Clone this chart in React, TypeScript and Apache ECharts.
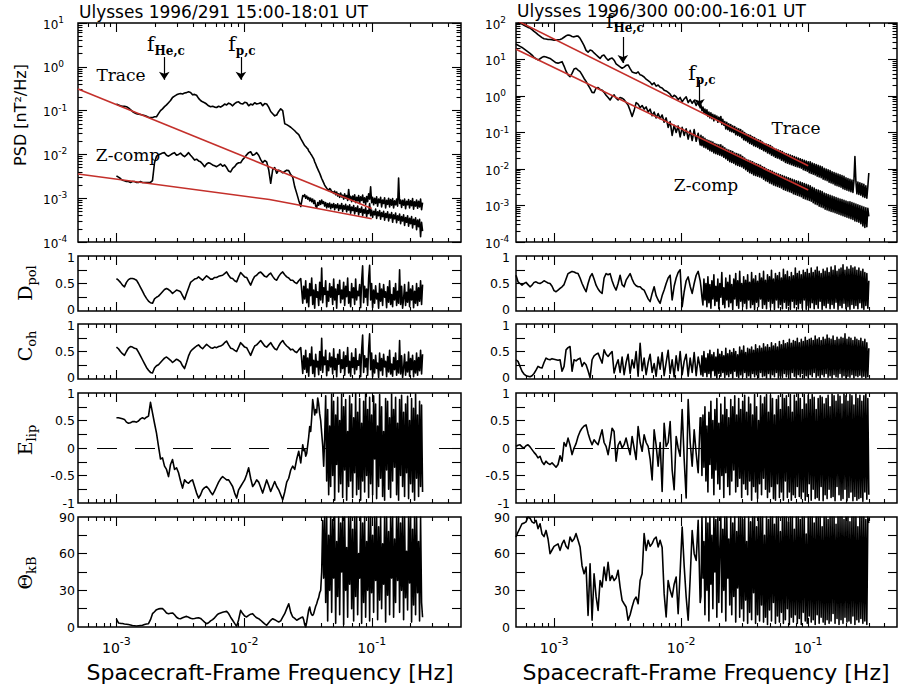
import React, { useEffect, useRef } from "react";
import * as echarts from "echarts";

const SANS = "'DejaVu Sans', Verdana, sans-serif";
const SERIF = "'DejaVu Serif', serif";
const INK = "#000";
const FIT_RED = "#c4302b";

// Frequency axis (Hz) and its labelled decades (exponents)
const F_LOW = 5e-4;
const F_HIGH = 0.5;
const F_LABEL_EXPONENTS = [-3, -2, -1];

// Sampling of each spectrum: [f start (Hz), f end (Hz), points], evenly spaced in log f.
// The high-frequency estimates are far denser than the low-frequency ones.
const SAMPLING_291 = [[1e-3, 0.0288, 94], [0.0293, 0.25, 120]];
const SAMPLING_300 = [[5e-4, 0.0141, 93], [0.0143, 0.3, 170]];

// PSD axis decades (exponents of 10, nT^2/Hz)
const PSD_EXP_291 = [-4, -3, -2, -1, 0, 1];
const PSD_EXP_300 = [-4, -3, -2, -1, 0, 1, 2];

// Linear panel ticks and labels
const UNIT_TICKS = [0.25, 0.5, 0.75];
const UNIT_LABELS = [0, 0.5, 1];
const ELIP_TICKS = [-0.75, -0.5, -0.25, 0, 0.25, 0.5, 0.75];
const ELIP_LABELS = [-1, -0.5, 0, 0.5, 1];
const THETA_TICKS = [15, 30, 45, 60, 75];
const THETA_LABELS = [0, 30, 60, 90];

// ---- 1996/291 15:00-18:01 UT ----
// log10 PSD [nT^2/Hz], trace of the spectral matrix
const traceLog291 = [
  -0.85, -0.87, -0.89, -0.9, -0.9, -0.91, -0.94, -0.98, -1.02, -1.05,
  -1.07, -1.08, -1.09, -1.1, -1.11, -1.13, -1.15, -1.16, -1.16, -1.14,
  -1.14, -1.07, -1.0, -0.96, -0.91, -0.87, -0.82, -0.77, -0.7, -0.67,
  -0.64, -0.62, -0.61, -0.62, -0.6, -0.59, -0.57, -0.585, -0.64, -0.63,
  -0.65, -0.72, -0.77, -0.8, -0.82, -0.85, -0.89, -0.91, -0.9, -0.92,
  -0.93, -0.9, -0.92, -0.89, -0.85, -0.87, -0.83, -0.85, -0.89, -0.84,
  -0.81, -0.8, -0.84, -0.85, -0.81, -0.82, -0.89, -0.85, -0.87, -0.82,
  -0.85, -0.84, -0.82, -0.89, -0.84, -0.85, -0.92, -1.02, -1.07, -1.12,
  -1.1, -1.02, -0.96, -1.0, -1.3, -1.32, -1.35, -1.38, -1.42, -1.46,
  -1.51, -1.55, -1.64, -1.72,
  -1.76, -1.8, -1.82, -1.85, -1.87, -1.92, -1.95, -1.99, -2.02, -2.06,
  -2.1, -2.17, -2.22, -2.28, -2.33, -2.38, -2.43, -2.49, -2.55, -2.6,
  -2.65, -2.7, -2.74, -2.77, -2.8, -2.82, -2.78, -2.8, -2.86, -2.85,
  -2.89, -2.84, -2.92, -2.86, -2.95, -2.9, -2.98, -2.88, -2.97, -2.93,
  -3.02, -2.9, -3.0, -2.94, -3.05, -2.8, -3.02, -2.96, -3.08, -2.95,
  -3.04, -2.92, -3.1, -2.98, -3.06, -2.94, -3.12, -2.97, -3.05, -2.93,
  -3.1, -2.99, -3.14, -2.96, -3.08, -2.9, -3.02, -2.74, -3.1, -2.98,
  -3.15, -3.0, -3.12, -2.97, -3.18, -3.02, -3.1, -2.98, -3.2, -3.04,
  -3.12, -2.99, -3.22, -3.05, -3.14, -3.0, -3.2, -3.03, -3.16, -3.01,
  -3.22, -3.06, -3.15, -3.02, -3.18, -2.54, -3.12, -3.04, -3.21, -3.05,
  -3.16, -3.02, -3.24, -3.07, -3.15, -3.03, -3.22, -3.06, -3.17, -3.01,
  -3.25, -3.08, -3.18, -3.04, -3.23, -3.07, -3.2, -3.02, -3.26, -3.1,
];
// log10 PSD [nT^2/Hz], field-aligned (Z) component
const zLog291 = [
  -2.49, -2.52, -2.55, -2.59, -2.6, -2.62, -2.62, -2.64, -2.62, -2.62,
  -2.64, -2.64, -2.62, -2.64, -2.64, -2.64, -2.64, -2.64, -2.6, -2.19,
  -2.04, -2.01, -1.99, -1.97, -1.96, -2.02, -2.04, -2.01, -1.98, -1.96,
  -2.02, -2.0, -1.97, -2.02, -2.05, -2.01, -1.96, -2.02, -2.07, -2.13,
  -2.11, -2.15, -2.17, -2.22, -2.28, -2.22, -2.19, -2.21, -2.24, -2.26,
  -2.28, -2.25, -2.22, -2.27, -2.24, -2.3, -2.38, -2.4, -2.32, -2.28,
  -2.22, -2.19, -2.19, -2.12, -2.07, -2.01, -1.96, -1.94, -2.02, -2.0,
  -1.96, -2.02, -2.12, -2.19, -2.14, -2.17, -2.35, -2.66, -2.35, -2.3,
  -2.43, -2.36, -2.38, -2.42, -2.39, -2.36, -2.37, -2.46, -2.52, -2.74,
  -2.89, -3.05, -3.19, -2.94,
  -2.96, -2.92, -3.0, -2.95, -3.02, -2.98, -3.06, -3.0, -3.08, -3.02,
  -3.12, -3.05, -3.18, -3.22, -3.1, -3.16, -3.06, -3.14, -3.04, -3.12,
  -3.08, -3.18, -3.1, -3.22, -3.12, -3.2, -3.11, -3.24, -3.14, -3.21,
  -3.12, -3.26, -3.15, -3.22, -3.13, -3.28, -3.16, -3.24, -3.12, -3.3,
  -3.17, -3.25, -3.14, -3.31, -3.18, -3.27, -3.15, -3.34, -3.2, -3.28,
  -3.17, -3.36, -3.22, -3.3, -3.18, -3.38, -3.24, -3.32, -3.2, -3.4,
  -3.26, -3.34, -3.22, -3.42, -3.28, -3.35, -3.12, -3.4, -3.27, -3.44,
  -3.3, -3.38, -3.25, -3.46, -3.31, -3.4, -3.28, -3.48, -3.33, -3.42,
  -3.3, -3.5, -3.35, -3.44, -3.31, -3.52, -3.37, -3.45, -3.33, -3.55,
  -3.38, -3.47, -3.34, -3.56, -3.4, -3.5, -3.36, -3.58, -3.42, -3.52,
  -3.38, -3.62, -3.44, -3.55, -3.4, -3.64, -3.46, -3.58, -3.42, -3.68,
  -3.48, -3.6, -3.45, -3.72, -3.5, -3.65, -3.48, -3.88, -3.55, -3.75,
];
const dpol291 = [
  0.59, 0.56, 0.52, 0.47, 0.44, 0.52, 0.57, 0.59, 0.59, 0.58,
  0.56, 0.5, 0.43, 0.36, 0.29, 0.23, 0.18, 0.15, 0.14, 0.22,
  0.25, 0.27, 0.31, 0.35, 0.39, 0.41, 0.39, 0.36, 0.32, 0.35,
  0.38, 0.37, 0.35, 0.28, 0.21, 0.32, 0.42, 0.52, 0.55, 0.58,
  0.59, 0.62, 0.59, 0.56, 0.6, 0.64, 0.61, 0.58, 0.58, 0.61,
  0.61, 0.63, 0.64, 0.65, 0.68, 0.71, 0.65, 0.6, 0.59, 0.55,
  0.53, 0.62, 0.7, 0.66, 0.62, 0.61, 0.54, 0.47, 0.56, 0.63,
  0.65, 0.69, 0.71, 0.67, 0.63, 0.62, 0.66, 0.69, 0.63, 0.58,
  0.56, 0.63, 0.68, 0.71, 0.66, 0.62, 0.6, 0.56, 0.56, 0.52,
  0.5, 0.55, 0.59, 0.14,
  0.45, 0.22, 0.55, 0.15, 0.4, 0.08, 0.5, 0.28, 0.6, 0.12,
  0.38, 0.05, 0.48, 0.25, 0.35, 0.1, 0.52, 0.2, 0.78, 0.15,
  0.42, 0.3, 0.55, 0.08, 0.36, 0.18, 0.5, 0.25, 0.44, 0.12,
  0.58, 0.2, 0.4, 0.05, 0.48, 0.3, 0.56, 0.15, 0.38, 0.22,
  0.52, 0.1, 0.45, 0.26, 0.6, 0.14, 0.35, 0.08, 0.5, 0.24,
  0.42, 0.12, 0.58, 0.2, 0.36, 0.28, 0.48, 0.06, 0.55, 0.82,
  0.15, 0.45, 0.25, 0.4, 0.1, 0.6, 0.83, 0.2, 0.5, 0.06,
  0.38, 0.14, 0.46, 0.22, 0.32, 0.05, 0.5, 0.18, 0.4, 0.1,
  0.48, 0.25, 0.35, 0.06, 0.44, 0.16, 0.55, 0.12, 0.3, 0.08,
  0.42, 0.2, 0.5, 0.1, 0.36, 0.14, 0.75, 0.12, 0.45, 0.05,
  0.22, 0.48, 0.1, 0.34, 0.16, 0.52, 0.08, 0.4, 0.2, 0.46,
  0.06, 0.36, 0.14, 0.5, 0.1, 0.42, 0.18, 0.55, 0.12, 0.48,
];
const coh291 = [
  0.58, 0.55, 0.5, 0.46, 0.43, 0.5, 0.56, 0.59, 0.58, 0.56,
  0.55, 0.49, 0.42, 0.35, 0.28, 0.21, 0.16, 0.12, 0.11, 0.2,
  0.24, 0.26, 0.3, 0.34, 0.38, 0.4, 0.37, 0.34, 0.3, 0.33,
  0.36, 0.34, 0.31, 0.24, 0.19, 0.3, 0.42, 0.5, 0.54, 0.57,
  0.6, 0.62, 0.58, 0.55, 0.59, 0.63, 0.6, 0.57, 0.56, 0.58,
  0.57, 0.59, 0.6, 0.62, 0.66, 0.69, 0.62, 0.56, 0.55, 0.52,
  0.5, 0.58, 0.66, 0.62, 0.58, 0.57, 0.5, 0.43, 0.52, 0.6,
  0.62, 0.66, 0.7, 0.65, 0.6, 0.58, 0.62, 0.66, 0.6, 0.55,
  0.53, 0.6, 0.66, 0.7, 0.64, 0.6, 0.57, 0.53, 0.54, 0.5,
  0.48, 0.53, 0.57, 0.1,
  0.42, 0.18, 0.52, 0.12, 0.38, 0.05, 0.46, 0.24, 0.58, 0.1,
  0.34, 0.04, 0.45, 0.22, 0.32, 0.08, 0.5, 0.16, 0.74, 0.12,
  0.4, 0.26, 0.52, 0.06, 0.33, 0.15, 0.47, 0.22, 0.4, 0.09,
  0.55, 0.17, 0.37, 0.04, 0.45, 0.27, 0.53, 0.12, 0.35, 0.19,
  0.49, 0.07, 0.42, 0.23, 0.57, 0.11, 0.32, 0.05, 0.47, 0.21,
  0.39, 0.09, 0.55, 0.17, 0.33, 0.25, 0.45, 0.04, 0.52, 0.8,
  0.12, 0.42, 0.22, 0.37, 0.07, 0.56, 0.82, 0.17, 0.47, 0.04,
  0.35, 0.11, 0.43, 0.19, 0.29, 0.03, 0.47, 0.15, 0.37, 0.07,
  0.45, 0.22, 0.32, 0.04, 0.41, 0.13, 0.52, 0.09, 0.27, 0.05,
  0.39, 0.17, 0.47, 0.07, 0.33, 0.11, 0.7, 0.09, 0.42, 0.03,
  0.19, 0.45, 0.07, 0.31, 0.13, 0.49, 0.05, 0.37, 0.17, 0.43,
  0.04, 0.33, 0.11, 0.47, 0.07, 0.39, 0.15, 0.52, 0.09, 0.45,
];
const elip291 = [
  0.55, 0.55, 0.54, 0.53, 0.52, 0.47, 0.45, 0.46, 0.48, 0.48,
  0.47, 0.49, 0.53, 0.55, 0.53, 0.56, 0.58, 0.83, 0.64, 0.45,
  0.27, 0.03, -0.2, -0.18, -0.33, -0.39, -0.52, -0.3, -0.21, -0.39,
  -0.36, -0.45, -0.6, -0.73, -0.58, -0.62, -0.64, -0.6, -0.58, -0.7,
  -0.82, -0.91, -0.85, -0.76, -0.72, -0.7, -0.74, -0.8, -0.85, -0.78,
  -0.7, -0.62, -0.56, -0.52, -0.55, -0.58, -0.58, -0.64, -0.7, -0.82,
  -0.91, -0.76, -0.7, -0.64, -0.58, -0.48, -0.36, -0.55, -0.7, -0.65,
  -0.58, -0.62, -0.72, -0.82, -0.7, -0.58, -0.68, -0.79, -0.7, -0.61,
  -0.7, -0.76, -0.85, -0.94, -0.8, -0.62, -0.55, -0.4, -0.33, -0.39,
  -0.2, -0.06, -0.27, 0.06,
  -0.05, -0.02, -0.15, -0.1, 0.05, 0.2, 0.39, 0.3, 0.55, 0.88,
  0.75, 0.6, 0.7, 0.64, 0.91, 0.8, 0.62, 0.5, 0.27, 0.05,
  -0.33, 0.2, 0.95, -0.6, 0.7, -0.85, 0.4, -0.7, 0.98, -0.5,
  0.85, -0.95, 0.6, -0.3, 0.92, -0.8, 0.5, -0.65, 0.98, -0.9,
  0.75, -0.4, 0.88, -0.95, 0.3, -0.7, 0.95, -0.6, 0.8, -0.9,
  0.55, -0.45, 0.99, -0.85, 0.65, -0.75, 0.9, -0.95, 0.45, -0.6,
  0.85, -0.8, 0.98, -0.5, 0.7, -0.9, 0.92, -0.65, 0.6, -0.85,
  0.95, -0.2, 0.8, -0.92, 0.4, -0.7, 0.97, -0.55, 0.75, -0.88,
  0.3, -0.95, 0.9, -0.4, 0.85, -0.75, 0.55, -0.9, 0.98, -0.6,
  0.7, -0.35, 0.92, -0.85, 0.45, -0.95, 0.88, -0.5, 0.96, -0.7,
  0.65, -0.88, 0.8, -0.45, 0.94, -0.92, 0.5, -0.65, 0.9, -0.8,
  0.72, -0.95, 0.98, -0.55, 0.6, -0.88, 0.85, -0.7, 0.78, -0.8,
];
const theta291 = [
  6.5, 3.3, 3.0, 2.8, 2.5, 2.3, 2.0, 1.6, 1.2, 1.0,
  0.8, 1.0, 1.2, 1.4, 2.0, 2.5, 2.7, 6.0, 10.9, 12.5,
  14.2, 14.8, 15.0, 15.0, 13.5, 11.5, 10.9, 11.2, 11.5, 10.0,
  8.0, 7.0, 6.8, 7.5, 8.2, 8.7, 8.0, 7.2, 6.8, 7.0,
  7.4, 7.6, 7.0, 5.5, 4.0, 2.7, 3.5, 5.0, 6.0, 7.5,
  9.5, 10.9, 11.5, 12.0, 12.5, 12.8, 11.0, 8.0, 5.5, 3.0,
  0.5, 6.0, 13.6, 11.0, 9.0, 8.2, 9.5, 10.5, 10.9, 9.0,
  7.5, 6.8, 5.5, 4.0, 2.5, 1.4, 3.5, 5.5, 6.8, 6.0,
  5.0, 4.1, 5.0, 8.0, 10.9, 15.0, 19.0, 12.0, 8.2, 7.0,
  5.5, 6.5, 7.5, 8.2,
  6, 2, 0, 4, 9, 14, 16.4, 12, 10, 9.5,
  11, 14, 17, 19, 22, 24, 28, 30, 45, 87,
  40, 90, 20, 90, 5, 75, 30, 90, 12, 88,
  40, 90, 3, 70, 25, 90, 10, 85, 45, 90,
  2, 90, 30, 65, 8, 90, 35, 90, 15, 80,
  5, 90, 25, 90, 10, 60, 40, 90, 3, 85,
  20, 90, 8, 70, 30, 90, 5, 90, 28, 75,
  12, 90, 38, 90, 6, 82, 22, 90, 15, 68,
  35, 90, 4, 90, 26, 78, 10, 90, 40, 90,
  8, 72, 20, 90, 38, 90, 12, 85, 30, 90,
  6, 90, 24, 62, 14, 90, 36, 90, 4, 80,
  18, 90, 10, 90, 28, 70, 5, 90, 20, 8,
];

// ---- 1996/300 00:00-16:01 UT ----
const traceLog300 = [
  2.08, 2.04, 2.0, 1.97, 1.94, 1.91, 1.88, 1.86, 1.82, 1.77,
  1.73, 1.68, 1.64, 1.6, 1.57, 1.56, 1.55, 1.55, 1.54, 1.53,
  1.53, 1.54, 1.55, 1.57, 1.61, 1.65, 1.67, 1.66, 1.63, 1.62,
  1.64, 1.64, 1.58, 1.48, 1.38, 1.25, 1.2, 1.26, 1.24, 1.18,
  1.13, 1.08, 1.03, 1.1, 1.12, 1.04, 0.98, 1.02, 1.04, 0.98,
  0.88, 0.84, 0.8, 0.76, 0.79, 0.84, 0.85, 0.75, 0.66, 0.64,
  0.62, 0.66, 0.58, 0.56, 0.52, 0.46, 0.42, 0.38, 0.31, 0.36,
  0.27, 0.3, 0.24, 0.22, 0.16, 0.14, 0.1, 0.05, -0.04, 0.02,
  -0.02, -0.1, -0.04, -0.16, -0.08, -0.02, -0.18, -0.1, -0.2, -0.12,
  -0.26, -0.16, -0.32,
  -0.24, -0.4, -0.3, -0.46, -0.36, -0.5, -0.38, -0.56, -0.44, -0.6,
  -0.46, -0.62, -0.5, -0.68, -0.52, -0.64, -0.55, -0.72, -0.58, -0.7,
  -0.56, -0.78, -0.64, -0.8, -0.7, -0.9, -0.72, -0.92, -0.76, -0.96,
  -0.78, -0.98, -0.82, -1.0, -0.84, -1.06, -0.88, -1.08, -0.9, -1.1,
  -0.92, -1.14, -0.96, -1.2, -1.0, -1.22, -1.04, -1.26, -1.06, -1.3,
  -1.08, -1.32, -1.12, -1.36, -1.14, -1.38, -1.18, -1.4, -1.2, -1.44,
  -1.22, -1.46, -1.26, -1.5, -1.3, -1.52, -1.32, -1.56, -1.34, -1.58,
  -1.36, -1.62, -1.4, -1.64, -1.44, -1.68, -1.46, -1.7, -1.48, -1.72,
  -1.5, -1.76, -1.52, -1.78, -1.56, -1.82, -1.58, -1.84, -1.6, -1.86,
  -1.62, -1.88, -1.64, -1.9, -1.66, -1.92, -1.68, -1.94, -1.7, -1.96,
  -1.72, -1.98, -1.74, -2.02, -1.76, -2.04, -1.78, -2.06, -1.8, -2.1,
  -1.8, -2.12, -1.84, -2.14, -1.86, -2.16, -1.88, -2.2, -1.9, -2.22,
  -1.92, -2.24, -1.94, -2.28, -1.98, -2.3, -2.0, -2.32, -2.02, -2.36,
  -2.04, -2.38, -2.08, -2.4, -2.1, -2.44, -2.12, -2.46, -2.14, -2.48,
  -2.16, -2.5, -2.18, -2.54, -2.2, -2.56, -2.24, -2.58, -2.26, -2.6,
  -2.28, -2.62, -2.3, -2.64, -2.32, -1.66, -2.34, -2.68, -2.36, -2.7,
  -2.38, -2.72, -2.4, -2.76, -2.42, -2.78, -2.46, -2.8, -2.48, -2.11,
];
const zLog300 = [
  1.42, 1.39, 1.36, 1.33, 1.29, 1.25, 1.21, 1.17, 1.12, 1.06,
  1.02, 0.99, 1.02, 1.06, 1.08, 1.07, 1.05, 1.03, 0.99, 0.95,
  0.91, 0.9, 0.92, 0.94, 0.82, 0.68, 0.58, 0.53, 0.62, 0.74,
  0.76, 0.71, 0.67, 0.58, 0.48, 0.4, 0.3, 0.21, 0.1, 0.09,
  0.22, 0.23, 0.18, 0.16, 0.1, 0.02, -0.04, -0.11, -0.02, 0.03,
  -0.06, -0.11, -0.04, -0.06, -0.1, -0.18, -0.25, -0.4, -0.56, -0.4,
  -0.18, -0.22, -0.32, -0.26, -0.36, -0.3, -0.44, -0.36, -0.54, -0.44,
  -0.6, -0.48, -0.62, -0.52, -0.72, -0.6, -0.86, -0.7, -1.08, -0.8,
  -1.0, -0.82, -1.12, -0.86, -1.08, -0.9, -1.18, -0.94, -1.22, -0.92,
  -1.24, -1.02, -1.34,
  -1.08, -1.36, -1.12, -1.4, -1.16, -1.42, -1.2, -1.46, -1.22, -1.5,
  -1.24, -1.52, -1.26, -1.56, -1.3, -1.58, -1.32, -1.6, -1.34, -1.62,
  -1.34, -1.64, -1.38, -1.68, -1.42, -1.72, -1.46, -1.76, -1.48, -1.8,
  -1.5, -1.82, -1.52, -1.84, -1.56, -1.88, -1.58, -1.9, -1.6, -1.92,
  -1.62, -1.94, -1.66, -1.98, -1.7, -2.02, -1.74, -2.06, -1.76, -2.1,
  -1.78, -2.12, -1.8, -2.16, -1.84, -2.18, -1.86, -2.2, -1.88, -2.22,
  -1.9, -2.24, -1.94, -2.28, -1.96, -2.32, -2.0, -2.34, -2.02, -2.38,
  -2.04, -2.4, -2.06, -2.44, -2.1, -2.46, -2.12, -2.48, -2.14, -2.5,
  -2.16, -2.52, -2.18, -2.56, -2.2, -2.58, -2.22, -2.6, -2.24, -2.62,
  -2.26, -2.64, -2.28, -2.68, -2.3, -2.7, -2.32, -2.72, -2.34, -2.74,
  -2.36, -2.76, -2.38, -2.8, -2.4, -2.82, -2.42, -2.84, -2.44, -2.86,
  -2.46, -2.88, -2.5, -2.92, -2.52, -2.96, -2.56, -2.98, -2.58, -3.02,
  -2.6, -3.04, -2.62, -3.06, -2.66, -3.1, -2.68, -3.12, -2.7, -3.14,
  -2.72, -3.16, -2.74, -3.18, -2.76, -3.2, -2.78, -3.22, -2.8, -3.24,
  -2.82, -3.26, -2.84, -3.28, -2.86, -3.3, -2.88, -3.32, -2.9, -3.34,
  -2.9, -3.36, -2.92, -3.38, -2.94, -3.42, -2.96, -3.44, -2.98, -3.46,
  -3.0, -3.5, -3.02, -3.56, -3.04, -3.6, -3.06, -3.58, -3.08, -3.3,
];
const dpol300 = [
  0.65, 0.53, 0.5, 0.47, 0.5, 0.52, 0.48, 0.44, 0.47, 0.52,
  0.53, 0.51, 0.5, 0.52, 0.55, 0.53, 0.51, 0.5, 0.45, 0.37,
  0.35, 0.38, 0.41, 0.44, 0.48, 0.58, 0.68, 0.7, 0.72, 0.71,
  0.69, 0.68, 0.6, 0.5, 0.42, 0.35, 0.5, 0.62, 0.68, 0.58,
  0.47, 0.4, 0.35, 0.32, 0.6, 0.68, 0.66, 0.68, 0.55, 0.45,
  0.38, 0.5, 0.65, 0.48, 0.44, 0.56, 0.62, 0.68, 0.58, 0.5,
  0.46, 0.44, 0.44, 0.4, 0.38, 0.3, 0.22, 0.17, 0.32, 0.44,
  0.28, 0.2, 0.14, 0.28, 0.38, 0.5, 0.6, 0.65, 0.2, 0.45,
  0.6, 0.7, 0.75, 0.08, 0.35, 0.55, 0.62, 0.45, 0.32, 0.5,
  0.65, 0.72, 0.55,
  0.44, 0.25, 0.11, 0.58, 0.2, 0.5, 0.08, 0.62, 0.15, 0.48,
  0.05, 0.55, 0.22, 0.66, 0.1, 0.45, 0.18, 0.58, 0.04, 0.5,
  0.25, 0.7, 0.12, 0.42, 0.06, 0.6, 0.2, 0.52, 0.08, 0.65,
  0.15, 0.48, 0.03, 0.58, 0.22, 0.68, 0.1, 0.55, 0.05, 0.72,
  0.18, 0.5, 0.08, 0.62, 0.14, 0.56, 0.04, 0.66, 0.2, 0.52,
  0.06, 0.7, 0.12, 0.58, 0.03, 0.64, 0.16, 0.54, 0.08, 0.68,
  0.22, 0.6, 0.05, 0.72, 0.12, 0.56, 0.04, 0.66, 0.18, 0.62,
  0.07, 0.74, 0.14, 0.58, 0.03, 0.68, 0.2, 0.64, 0.06, 0.7,
  0.12, 0.6, 0.04, 0.76, 0.16, 0.66, 0.05, 0.72, 0.1, 0.62,
  0.03, 0.7, 0.18, 0.64, 0.06, 0.78, 0.12, 0.68, 0.04, 0.72,
  0.14, 0.66, 0.05, 0.74, 0.2, 0.7, 0.03, 0.76, 0.1, 0.68,
  0.06, 0.78, 0.15, 0.7, 0.04, 0.74, 0.12, 0.8, 0.05, 0.72,
  0.18, 0.68, 0.03, 0.76, 0.1, 0.72, 0.06, 0.78, 0.14, 0.7,
  0.04, 0.8, 0.12, 0.74, 0.05, 0.82, 0.16, 0.72, 0.03, 0.76,
  0.1, 0.78, 0.06, 0.84, 0.14, 0.74, 0.04, 0.8, 0.08, 0.76,
  0.03, 0.82, 0.12, 0.78, 0.05, 0.8, 0.1, 0.74, 0.04, 0.78,
  0.15, 0.72, 0.06, 0.76, 0.03, 0.7, 0.1, 0.68, 0.05, 0.55,
];
const coh300 = [
  0.35, 0.32, 0.23, 0.14, 0.09, 0.06, 0.05, 0.04, 0.06, 0.1,
  0.16, 0.23, 0.21, 0.2, 0.3, 0.38, 0.36, 0.35, 0.37, 0.36,
  0.35, 0.34, 0.35, 0.14, 0.23, 0.53, 0.57, 0.59, 0.14, 0.35,
  0.33, 0.36, 0.38, 0.23, 0.3, 0.26, 0.15, 0.02, 0.35, 0.42,
  0.45, 0.47, 0.38, 0.29, 0.53, 0.45, 0.41, 0.46, 0.5, 0.11,
  0.25, 0.35, 0.12, 0.4, 0.08, 0.3, 0.45, 0.1, 0.35, 0.2,
  0.5, 0.05, 0.65, 0.15, 0.38, 0.08, 0.3, 0.45, 0.12, 0.28,
  0.05, 0.4, 0.18, 0.48, 0.06, 0.3, 0.52, 0.1, 0.35, 0.04,
  0.42, 0.15, 0.5, 0.08, 0.32, 0.45, 0.05, 0.38, 0.12, 0.48,
  0.06, 0.4, 0.2,
  0.08, 0.42, 0.05, 0.5, 0.12, 0.38, 0.04, 0.46, 0.1, 0.52,
  0.03, 0.44, 0.15, 0.48, 0.06, 0.4, 0.02, 0.54, 0.1, 0.45,
  0.05, 0.5, 0.12, 0.42, 0.03, 0.56, 0.08, 0.46, 0.04, 0.52,
  0.1, 0.48, 0.02, 0.55, 0.14, 0.5, 0.05, 0.44, 0.03, 0.58,
  0.08, 0.52, 0.04, 0.6, 0.12, 0.48, 0.03, 0.56, 0.06, 0.54,
  0.02, 0.58, 0.1, 0.52, 0.04, 0.62, 0.08, 0.55, 0.03, 0.6,
  0.12, 0.56, 0.04, 0.64, 0.06, 0.58, 0.02, 0.62, 0.1, 0.57,
  0.03, 0.66, 0.08, 0.6, 0.04, 0.64, 0.12, 0.58, 0.02, 0.68,
  0.06, 0.62, 0.03, 0.7, 0.1, 0.64, 0.04, 0.66, 0.08, 0.72,
  0.02, 0.65, 0.12, 0.7, 0.05, 0.68, 0.03, 0.74, 0.08, 0.66,
  0.04, 0.72, 0.1, 0.68, 0.02, 0.76, 0.06, 0.7, 0.03, 0.72,
  0.08, 0.74, 0.04, 0.7, 0.12, 0.78, 0.03, 0.72, 0.06, 0.75,
  0.02, 0.7, 0.08, 0.76, 0.04, 0.72, 0.1, 0.8, 0.03, 0.74,
  0.06, 0.72, 0.02, 0.78, 0.08, 0.7, 0.04, 0.76, 0.03, 0.72,
  0.1, 0.76, 0.03, 0.74, 0.06, 0.82, 0.02, 0.72, 0.05, 0.76,
  0.03, 0.74, 0.08, 0.7, 0.02, 0.76, 0.06, 0.72, 0.04, 0.7,
  0.07, 0.74, 0.03, 0.68, 0.05, 0.72, 0.02, 0.66, 0.04, 0.56,
];
const elip300 = [
  0.03, 0.05, 0.06, 0.02, 0.0, 0.04, 0.06, 0.02, -0.03, -0.08,
  -0.12, -0.18, -0.15, -0.25, -0.3, -0.24, -0.28, -0.3, -0.27, -0.31,
  -0.35, -0.3, -0.14, -0.24, 0.1, 0.03, 0.18, 0.05, -0.12, 0.0,
  0.08, 0.21, 0.3, 0.36, 0.4, 0.42, 0.27, 0.15, 0.06, 0.15,
  0.1, 0.06, 0.2, 0.33, 0.1, 0.03, -0.12, 0.1, 0.36, 0.3,
  -0.24, 0.05, 0.12, 0.0, 0.06, 0.18, 0.02, -0.12, 0.21, 0.0,
  -0.21, 0.39, 0.1, -0.06, 0.24, 0.1, 0.03, -0.2, -0.58, 0.33,
  0.05, -0.33, 0.1, -0.79, 0.45, 0.03, 0.1, 0.48, -0.4, -0.76,
  0.21, 0.0, -0.15, 0.7, -0.2, -0.91, 0.88, 0.1, -0.33, 0.33,
  -0.1, -0.45, 0.55,
  0.55, -0.5, 0.6, -0.35, 0.75, -0.6, 0.4, -0.8, 0.65, -0.3,
  0.85, -0.55, 0.5, -0.85, 0.7, -0.4, 0.9, -0.65, 0.45, -0.75,
  0.8, -0.5, 0.6, -0.9, 0.92, -0.45, 0.7, -0.7, 0.55, -0.85,
  0.88, -0.6, 0.75, -0.4, 0.95, -0.8, 0.6, -0.7, 0.9, -0.55,
  0.7, -0.9, 0.85, -0.65, 0.96, -0.75, 0.65, -0.85, 0.92, -0.6,
  0.8, -0.95, 0.6, -0.7, 0.97, -0.8, 0.75, -0.92, 0.5, -0.65,
  0.95, -0.85, 0.8, -0.55, 0.92, -0.75, 0.97, -0.9, 0.65, -0.8,
  0.96, -0.7, 0.9, -0.92, 0.6, -0.95, 0.88, -0.65, 0.95, -0.9,
  0.7, -0.8, 0.97, -0.95, 0.9, -0.6, 0.95, -0.9, 0.75, -0.8,
  0.97, -0.95, 0.65, -0.85, 0.96, -0.9, 0.85, -0.7, 0.98, -0.88,
  0.9, -0.92, 0.7, -0.8, 0.97, -0.95, 0.8, -0.88, 0.96, -0.65,
  0.88, -0.95, 0.97, -0.75, 0.92, -0.92, 0.7, -0.9, 0.9, -0.95,
  0.95, -0.7, 0.92, -0.96, 0.8, -0.85, 0.9, -0.92, 0.96, -0.75,
  0.75, -0.9, 0.98, -0.88, 0.95, -0.96, 0.85, -0.7, 0.97, -0.85,
  0.94, -0.95, 0.8, -0.92, 0.98, -0.75, 0.95, -0.96, 0.85, -0.9,
  0.97, -0.8, 0.95, -0.96, 0.78, -0.88, 0.98, -0.95, 0.9, -0.92,
  0.96, -0.9, 0.85, -0.97, 0.95, -0.8, 0.98, -0.93, 0.9, -0.85,
];
const theta300 = [
  73.6, 77.7, 81.0, 84.5, 85.0, 86.0, 90.0, 89.0, 86.0, 85.0,
  87.3, 80.5, 84.5, 76.0, 74.0, 79.0, 72.0, 60.0, 63.0, 66.0,
  67.0, 68.0, 62.7, 68.0, 71.0, 66.0, 64.0, 73.6, 70.0, 72.0,
  76.4, 70.9, 65.5, 50.0, 43.6, 49.0, 9.5, 51.8, 5.5, 43.6,
  25.0, 13.6, 38.0, 32.7, 49.0, 38.0, 53.0, 38.0, 42.0, 38.0,
  40.0, 46.4, 32.7, 21.8, 19.0, 16.4, 5.5, 10.0, 16.4, 22.0,
  24.5, 19.0, 38.0, 43.6, 76.4, 62.7, 70.9, 66.0, 68.2, 72.0,
  73.6, 65.5, 70.9, 65.0, 27.3, 8.2, 38.0, 30.0, 24.5, 35.0,
  40.9, 10.9, 45.0, 81.8, 50.0, 24.5, 5.5, 40.0, 79.0, 60.0,
  54.5, 87.3, 20.0,
  25, 90, 40, 70, 10, 90, 30, 85, 5, 90,
  35, 75, 15, 90, 45, 88, 8, 90, 20, 65,
  90, 12, 80, 30, 90, 5, 90, 40, 72, 18,
  90, 10, 85, 25, 90, 4, 78, 32, 90, 8,
  90, 15, 88, 5, 90, 22, 70, 3, 90, 12,
  86, 6, 90, 28, 90, 3, 82, 10, 90, 5,
  90, 18, 90, 4, 75, 8, 90, 2, 88, 14,
  90, 5, 90, 20, 84, 3, 90, 9, 90, 4,
  78, 12, 90, 3, 90, 6, 90, 15, 86, 2,
  90, 8, 90, 4, 80, 10, 90, 3, 90, 7,
  88, 2, 90, 12, 90, 5, 76, 3, 90, 9,
  90, 4, 90, 6, 85, 2, 90, 10, 90, 3,
  90, 8, 82, 4, 90, 2, 90, 6, 88, 3,
  90, 5, 90, 11, 90, 3, 84, 7, 90, 2,
  90, 6, 90, 3, 88, 8, 90, 4, 90, 5,
  86, 3, 90, 9, 90, 2, 90, 6, 82, 4,
  90, 7, 90, 3, 90, 5, 88, 2, 90, 85,
];

// Power-law fits, [f (Hz), PSD (nT^2/Hz)]
const fitTrace291 = [[5e-4, 0.31], [0.1, 5.8e-4]];
const fitZ291 = [[5e-4, 3.56e-3], [0.0158, 9.3e-4], [0.1, 3.4e-4]];
const fitTrace300 = [[5e-4, 120], [0.1, 0.0123]];
const fitZ300 = [[5e-4, 19], [0.1, 2.66e-3]];

// Cyclotron-frequency markers: [f (Hz), PSD at tail, PSD at head]
const fHe291 = [2.37e-3, 1.67, 0.505];
const fP291 = [9.44e-3, 1.67, 0.505];
const fHe300 = [3.47e-3, 41.3, 8.0];
const fP300 = [0.0139, 2.74, 0.5];

const X_TITLE = "Spacecraft-Frame Frequency [Hz]";
const TITLES = ["Ulysses 1996/291 15:00-18:01 UT", "Ulysses 1996/300 00:00-16:01 UT"];

// ---------- helpers ----------
const lg = Math.log10;

function logFrequencies(sampling: number[][]): number[] {
  const xs: number[] = [];
  sampling.forEach(([f0, f1, n]) => {
    const a = lg(f0);
    const b = lg(f1);
    for (let i = 0; i < n; i++) xs.push(a + ((b - a) * i) / (n - 1));
  });
  return xs;
}

function onSampling(values: number[], sampling: number[][]): number[][] {
  const xs = logFrequencies(sampling);
  const n = Math.min(xs.length, values.length);
  const out: number[][] = [];
  for (let i = 0; i < n; i++) out.push([xs[i], values[i]]);
  return out;
}

function logPairs(pts: number[][]): number[][] {
  return pts.map(([f, p]) => [lg(f), lg(p)]);
}

function logMinorTicks(lo: number, hi: number): number[] {
  const out: number[] = [];
  for (let n = Math.floor(lo); n < Math.ceil(hi); n++) {
    for (let k = 2; k <= 9; k++) {
      const v = n + lg(k);
      if (v > lo + 1e-6 && v < hi - 1e-6) out.push(v);
    }
  }
  return out;
}

function tickAxis(
  gridIndex: number,
  position: string,
  min: number,
  max: number,
  ticks: number[],
  length: number,
  label?: any
) {
  return {
    type: "value",
    gridIndex,
    position,
    min,
    max,
    axisLine: { show: false, onZero: false },
    splitLine: { show: false },
    axisPointer: { show: false },
    axisTick: {
      show: true,
      inside: true,
      length,
      customValues: ticks,
      lineStyle: { color: INK, width: 1.1 },
    },
    axisLabel: label ? { show: true, color: INK, ...label } : { show: false },
  };
}

function powerLabel(values: number[], base: number, sup: number, raise: number, extra: any) {
  return {
    customValues: values,
    formatter: (v: number) => `{b|10}{s|${Math.round(v)}}`,
    rich: {
      b: { fontFamily: SANS, fontSize: base, color: INK, verticalAlign: "bottom" },
      s: { fontFamily: SANS, fontSize: sup, color: INK, verticalAlign: "bottom", padding: [0, 0, raise, 0] },
    },
    ...extra,
  };
}

function line(xi: number, yi: number, data: number[][], color: string, width: number, z: number, extra: any = {}) {
  return {
    type: "line",
    xAxisIndex: xi,
    yAxisIndex: yi,
    data,
    symbol: "none",
    showSymbol: false,
    silent: true,
    clip: true,
    z,
    lineStyle: { color, width, join: "round" },
    ...extra,
  };
}

function arrowMark(markers: number[][]) {
  return {
    silent: true,
    symbol: ["none", "arrow"],
    symbolSize: 8,
    label: { show: false },
    lineStyle: { color: INK, width: 1.2, type: "solid" },
    data: markers.map(([f, a, b]) => [
      { coord: [lg(f), lg(a)] },
      { coord: [lg(f), lg(b)] },
    ]),
  };
}

// ---------- layout ----------
const DATA_WIDTH = 1.6;
const LIN_FONT = 12.5;
const COLS = [
  {
    left: 78, width: 383, sampling: SAMPLING_291, psdExp: PSD_EXP_291, psdMargin: 35, linMargin: 3,
    trace: traceLog291, z: zLog291, dpol: dpol291, coh: coh291, elip: elip291, theta: theta291,
    fitT: fitTrace291, fitZ: fitZ291, markers: [fHe291, fP291],
  },
  {
    left: 516, width: 381, sampling: SAMPLING_300, psdExp: PSD_EXP_300, psdMargin: 31, linMargin: 6,
    trace: traceLog300, z: zLog300, dpol: dpol300, coh: coh300, elip: elip300, theta: theta300,
    fitT: fitTrace300, fitZ: fitZ300, markers: [fHe300, fP300],
  },
];
const ROWS = [
  { top: 23, height: 219, kind: "psd" },
  { top: 256, height: 55, kind: "dpol" },
  { top: 324, height: 55, kind: "coh" },
  { top: 393, height: 110, kind: "elip" },
  { top: 517, height: 110, kind: "theta" },
];

function buildOption() {
  const grid: any[] = [];
  const xAxis: any[] = [];
  const yAxis: any[] = [];
  const series: any[] = [];
  const xMin = lg(F_LOW);
  const xMax = lg(F_HIGH);
  const xMinor = logMinorTicks(xMin, xMax);

  COLS.forEach((col) => {
    ROWS.forEach((row, r) => {
      const g = grid.length;
      grid.push({
        left: col.left, top: row.top, width: col.width, height: row.height,
        show: true, borderColor: INK, borderWidth: 1.5, backgroundColor: "transparent",
        containLabel: false, outerBoundsMode: "none",
      });
      const last = r === ROWS.length - 1;
      const xi = xAxis.length;
      xAxis.push(
        tickAxis(g, "bottom", xMin, xMax, F_LABEL_EXPONENTS, 9,
          last ? powerLabel(F_LABEL_EXPONENTS, 14, 11, 8, { margin: 9 }) : undefined)
      );
      xAxis.push(tickAxis(g, "bottom", xMin, xMax, xMinor, 4));
      xAxis.push(tickAxis(g, "top", xMin, xMax, F_LABEL_EXPONENTS, 9));
      xAxis.push(tickAxis(g, "top", xMin, xMax, xMinor, 4));

      const yi = yAxis.length;
      if (row.kind === "psd") {
        const lo = col.psdExp[0];
        const hi = col.psdExp[col.psdExp.length - 1];
        const minor = logMinorTicks(lo, hi);
        yAxis.push(tickAxis(g, "left", lo, hi, col.psdExp, 9,
          powerLabel(col.psdExp, 12, 9, 6, { margin: col.psdMargin, align: "left" })));
        yAxis.push(tickAxis(g, "left", lo, hi, minor, 4.5));
        yAxis.push(tickAxis(g, "right", lo, hi, col.psdExp, 9));
        yAxis.push(tickAxis(g, "right", lo, hi, minor, 4.5));

        series.push(line(xi, yi, onSampling(col.trace, col.sampling), INK, DATA_WIDTH, 2, {
          markLine: arrowMark(col.markers),
        }));
        series.push(line(xi, yi, onSampling(col.z, col.sampling), INK, DATA_WIDTH, 2));
        series.push(line(xi, yi, logPairs(col.fitT), FIT_RED, 1.6, 3));
        series.push(line(xi, yi, logPairs(col.fitZ), FIT_RED, 1.6, 3));
      } else {
        let min = 0, max = 1, ticks = UNIT_TICKS, labels = UNIT_LABELS, vals = col.dpol;
        if (row.kind === "coh") vals = col.coh;
        if (row.kind === "elip") { min = -1; ticks = ELIP_TICKS; labels = ELIP_LABELS; vals = col.elip; }
        if (row.kind === "theta") { max = 90; ticks = THETA_TICKS; labels = THETA_LABELS; vals = col.theta; }
        const unit = row.kind === "dpol" || row.kind === "coh";
        const plain = { fontFamily: SANS, fontSize: LIN_FONT, color: INK };
        yAxis.push(tickAxis(g, "left", min, max, ticks, 9, {
          customValues: labels,
          margin: col.linMargin,
          fontFamily: SANS,
          fontSize: LIN_FONT,
          lineHeight: 11,
          formatter: (v: number) => {
            const s = String(Math.round(v * 100) / 100);
            if (unit && v === 0) return `{lo|${s}}`;
            if (unit && v === 1) return `{hi|${s}}`;
            return s;
          },
          rich: {
            lo: { ...plain, padding: [0, 0, 3, 0] },
            hi: { ...plain, padding: [3, 0, 0, 0] },
          },
        }));
        yAxis.push(tickAxis(g, "right", min, max, ticks, 9));
        const extra: any = {};
        if (row.kind === "elip") {
          extra.markLine = {
            silent: true,
            symbol: "none",
            label: { show: false },
            lineStyle: { color: INK, width: 1.2, type: [20, 18], dashOffset: 19 },
            data: [{ yAxis: 0 }],
          };
        }
        series.push(line(xi, yi, onSampling(vals, col.sampling), INK, DATA_WIDTH, 2, extra));
      }
    });
  });

  const txt = (text: string, x: number, y: number, size: number, family: string, opts: any = {}) => ({
    type: "text",
    x,
    y,
    rotation: opts.rot || 0,
    silent: true,
    z: 100,
    style: {
      text,
      fill: INK,
      fontSize: size,
      fontFamily: family,
      fontWeight: opts.weight || "normal",
      align: opts.align || "center",
      textAlign: opts.align || "center",
      verticalAlign: "middle",
      textVerticalAlign: "middle",
      rich: opts.rich,
    },
  });
  const up = { rot: Math.PI / 2 };

  // symbol with a lowered subscript, drawn as one rich text
  const subRich = (main: number, sub: number, drop: number, bold: boolean) => ({
    m: { fontFamily: SERIF, fontSize: main, fill: INK, color: INK, verticalAlign: "top", lineHeight: main + 2 },
    s: {
      fontFamily: SERIF, fontSize: sub, fill: INK, color: INK, verticalAlign: "top",
      fontWeight: bold ? "bold" : "normal", padding: [drop, 0, 0, 0], lineHeight: sub + 2,
    },
  });
  const withSub = (main: string, sub: string, x: number, y: number, rot: number, ms: number, ss: number, drop: number, bold: boolean) =>
    txt(`{m|${main}}{s|${sub}}`, x, y, ms, SERIF, { rot, rich: subRich(ms, ss, drop, bold) });

  const graphic = [
    txt(TITLES[0], 79, 12, 17, SANS, { align: "left" }),
    txt(TITLES[1], 517, 11, 17, SANS, { align: "left" }),
    txt(X_TITLE, 270, 672, 22, SANS),
    txt(X_TITLE, 706, 672, 22, SANS),
    txt("PSD [nT²/Hz]", 20, 115, 16, SANS, up),
    withSub("D", "pol", 26, 283, Math.PI / 2, 19, 13, 9, false),
    withSub("C", "oh", 26, 346, Math.PI / 2, 19, 13, 9, false),
    withSub("E", "lip", 26, 440, Math.PI / 2, 19, 13, 9, false),
    withSub("Θ", "kB", 26, 573, Math.PI / 2, 19, 13, 9, false),
    txt("Trace", 121, 75, 17, SERIF),
    txt("Z-comp", 128, 155, 17, SERIF),
    txt("Trace", 796, 128, 17, SERIF),
    txt("Z-comp", 706, 185, 17, SERIF),
    withSub("f", "He,c", 166, 45, 0, 20, 12, 11, true),
    withSub("f", "p,c", 242, 45, 0, 20, 12, 11, true),
    withSub("f", "He,c", 625, 22, 0, 20, 12, 11, true),
    withSub("f", "p,c", 702, 74, 0, 20, 12, 11, true),
  ];

  return {
    animation: false,
    backgroundColor: "#fff",
    textStyle: { fontFamily: SANS },
    grid,
    xAxis,
    yAxis,
    series,
    graphic,
  };
}

export default function App() {
  const ref = useRef<HTMLDivElement>(null);
  useEffect(() => {
    if (!ref.current) return;
    const chart = echarts.init(ref.current, null, { renderer: "svg" });
    chart.setOption(buildOption() as any);
    return () => chart.dispose();
  }, []);
  return (
    <div
      ref={ref}
      style={{ position: "fixed", left: 0, top: 0, width: 900, height: 690, background: "#fff" }}
    />
  );
}
